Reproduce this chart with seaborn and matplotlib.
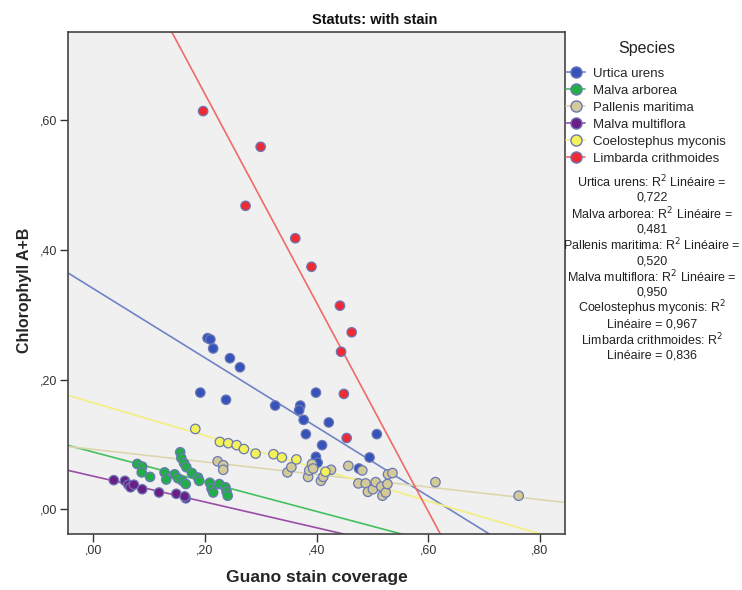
import numpy as np
import pandas as pd
import matplotlib
matplotlib.use("Agg")
import matplotlib.pyplot as plt
from matplotlib.lines import Line2D
from matplotlib.ticker import FuncFormatter
import seaborn as sns

species = ["Urtica urens", "Malva arborea", "Pallenis maritima",
           "Malva multiflora", "Coelostephus myconis", "Limbarda crithmoides"]
point_colors = ["#3553b8", "#22ad48", "#d3ca98", "#6a1f86", "#f4f25a", "#ee2b35"]
line_colors = ["#7083c6", "#45c060", "#dcd6ae", "#9a4da6", "#f3ef7e", "#f06a6a"]
r2_values = ["0,722", "0,481", "0,520", "0,950", "0,967", "0,836"]

urtica_x = [0.205, 0.210, 0.215, 0.245, 0.263, 0.192, 0.238, 0.326, 0.371, 0.369,
            0.399, 0.377, 0.422, 0.381, 0.508, 0.410, 0.399, 0.402, 0.495, 0.476]
urtica_y = [0.264, 0.262, 0.248, 0.233, 0.219, 0.180, 0.169, 0.160, 0.160, 0.153,
            0.180, 0.138, 0.134, 0.116, 0.116, 0.099, 0.081, 0.072, 0.080, 0.063]

arborea_x = [0.079, 0.088, 0.087, 0.102, 0.128, 0.131, 0.146, 0.152, 0.160, 0.166,
             0.156, 0.158, 0.163, 0.167, 0.177, 0.188, 0.190, 0.209, 0.212, 0.215,
             0.226, 0.237, 0.239, 0.241]
arborea_y = [0.070, 0.066, 0.057, 0.050, 0.057, 0.046, 0.054, 0.048, 0.044, 0.039,
             0.088, 0.079, 0.071, 0.065, 0.056, 0.049, 0.044, 0.041, 0.032, 0.026,
             0.039, 0.034, 0.027, 0.021]

pallenis_x = [0.223, 0.233, 0.233, 0.348, 0.355, 0.385, 0.387, 0.392, 0.394, 0.408,
              0.412, 0.426, 0.457, 0.482, 0.475, 0.488, 0.492, 0.501, 0.506, 0.516,
              0.518, 0.524, 0.527, 0.528, 0.536, 0.613, 0.762]
pallenis_y = [0.074, 0.068, 0.061, 0.057, 0.065, 0.050, 0.060, 0.070, 0.063, 0.044,
              0.050, 0.061, 0.067, 0.060, 0.040, 0.040, 0.027, 0.031, 0.042, 0.035,
              0.021, 0.026, 0.039, 0.054, 0.056, 0.042, 0.021]

multiflora_x = [0.037, 0.057, 0.063, 0.067, 0.073, 0.088, 0.118, 0.149, 0.166, 0.164]
multiflora_y = [0.045, 0.044, 0.038, 0.034, 0.038, 0.031, 0.026, 0.024, 0.017, 0.020]

coelo_x = [0.183, 0.227, 0.242, 0.257, 0.270, 0.291, 0.323, 0.338, 0.364, 0.416]
coelo_y = [0.124, 0.104, 0.102, 0.099, 0.093, 0.086, 0.085, 0.080, 0.077, 0.058]

limbarda_x = [0.197, 0.300, 0.273, 0.362, 0.391, 0.442, 0.463, 0.444, 0.449, 0.454]
limbarda_y = [0.614, 0.559, 0.468, 0.418, 0.374, 0.314, 0.273, 0.243, 0.178, 0.110]

xs = [urtica_x, arborea_x, pallenis_x, multiflora_x, coelo_x, limbarda_x]
ys = [urtica_y, arborea_y, pallenis_y, multiflora_y, coelo_y, limbarda_y]

frames = []
for sp, x, y in zip(species, xs, ys):
    frames.append(pd.DataFrame({"Guano": x, "Chl": y, "Species": sp}))
df = pd.concat(frames, ignore_index=True)

sns.set_style("white")
plt.rcParams["font.family"] = ["Liberation Sans", "DejaVu Sans"]

W, H = 742, 590
fig = plt.figure(figsize=(7.42, 5.90), dpi=100)
ax = fig.add_axes([0.0916, 0.0949, 0.6699, 0.8509])
ax.set_facecolor("#f0f0f0")
ax.set_xlim(-0.045, 0.845)
ax.set_ylim(-0.038, 0.736)

for sp, lc in zip(species, line_colors):
    sub = df[df["Species"] == sp]
    sns.regplot(data=sub, x="Guano", y="Chl", ax=ax, scatter=False, ci=None,
                truncate=False, color=lc, line_kws={"linewidth": 1.2})

palette = dict(zip(species, point_colors))
sns.scatterplot(data=df, x="Guano", y="Chl", hue="Species", palette=palette,
                ax=ax, s=46, edgecolor="#6a78b5", linewidth=0.9, legend=False, zorder=5)

ax.set_xlim(-0.045, 0.845)
ax.set_ylim(-0.038, 0.736)

fmt = FuncFormatter(lambda v, p: ("%.2f" % v).replace("0.", ",", 1))
ax.xaxis.set_major_formatter(fmt)
ax.yaxis.set_major_formatter(fmt)
ax.set_xticks([0.0, 0.2, 0.4, 0.6, 0.8])
ax.set_yticks([0.0, 0.2, 0.4, 0.6])
ax.tick_params(axis="both", direction="out", length=5.5, width=1, color="#333333",
               labelsize=9, labelcolor="#333333", bottom=True, left=True, pad=2)
for s in ax.spines.values():
    s.set_color("#444444")
    s.set_linewidth(1.2)

ax.set_xlabel("Guano stain coverage", fontsize=12.5, fontweight="bold", labelpad=10)
ax.set_ylabel("Chlorophyll A+B", fontsize=11.5, fontweight="bold")
ax.yaxis.set_label_coords(-0.073, 0.485)
fig.text(375 / W, 1 - 20 / H, "Statuts: with stain", fontsize=10.5,
         fontweight="bold", ha="center", va="center", color="#111111")

fig.text(647 / W, 1 - 48 / H, "Species", fontsize=11.5, ha="center",
         va="center", color="#222222")
handles = [Line2D([0], [0], color=lc, marker="o", markersize=8,
                  markerfacecolor=pc, markeredgecolor="#6a78b5", linewidth=1.2)
           for pc, lc in zip(point_colors, line_colors)]
fig.legend(handles, species, loc="upper left",
           bbox_to_anchor=(561 / W, 1 - 62 / H), frameon=False, fontsize=9.5,
           handlelength=1.4, handletextpad=0.6, labelspacing=0.37,
           borderaxespad=0.0)

r2_lines = [
    "Urtica urens: R$^2$ Linéaire =", r2_values[0],
    "Malva arborea: R$^2$ Linéaire =", r2_values[1],
    "Pallenis maritima: R$^2$ Linéaire =", r2_values[2],
    "Malva multiflora: R$^2$ Linéaire =", r2_values[3],
    "Coelostephus myconis: R$^2$", "Linéaire = " + r2_values[4],
    "Limbarda crithmoides: R$^2$", "Linéaire = " + r2_values[5],
]
for i, t in enumerate(r2_lines):
    fig.text(652 / W, 1 - (182 + i * 15.8) / H, t, ha="center", va="center",
             fontsize=9, color="#222222")

fig.savefig("out.png", dpi=100)
